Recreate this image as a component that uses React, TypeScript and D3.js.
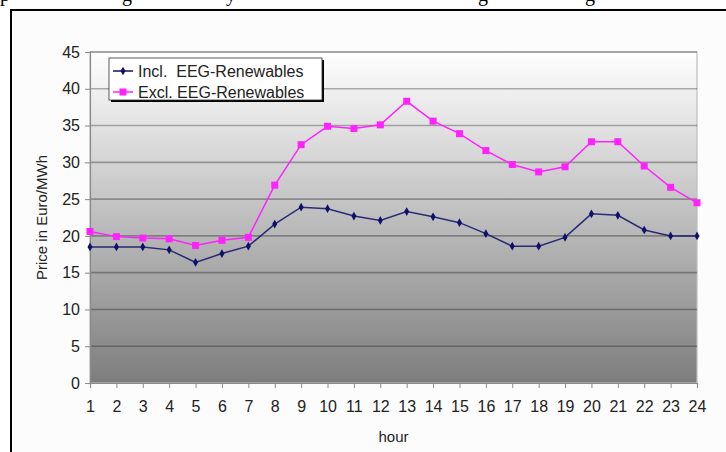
import { useEffect, useRef } from "react";
import * as d3 from "d3";

const hours = d3.range(1, 25);
const inclValues = [
  18.5, 18.5, 18.5, 18.1, 16.4, 17.6, 18.6, 21.6, 23.9, 23.7, 22.7, 22.1,
  23.3, 22.6, 21.8, 20.3, 18.6, 18.6, 19.8, 23.0, 22.8, 20.8, 20.0, 20.0,
];
const exclValues = [
  20.6, 19.9, 19.7, 19.6, 18.7, 19.4, 19.8, 26.9, 32.4, 34.9, 34.6, 35.1,
  38.3, 35.6, 33.9, 31.6, 29.7, 28.7, 29.4, 32.8, 32.8, 29.5, 26.6, 24.5,
];
const yTicks = [0, 5, 10, 15, 20, 25, 30, 35, 40, 45];
const seriesNames = ["Incl.  EEG-Renewables", "Excl. EEG-Renewables"];
const headerGlyphs = [
  { x: 0, ch: "p" },
  { x: 122, ch: "g" },
  { x: 226, ch: "y" },
  { x: 478, ch: "g" },
  { x: 585, ch: "g" },
];

const W = 726;
const H = 452;
const PLOT = { left: 90, right: 697, top: 52, bottom: 383 };
const FONT = "Arial, 'Liberation Sans', sans-serif";
const NAVY = "#10106a";
const PINK = "#ff22ff";

export default function App() {
  const svgRef = useRef<SVGSVGElement>(null);

  useEffect(() => {
    const svg = d3.select(svgRef.current);
    svg.selectAll("*").remove();
    svg.attr("width", W).attr("height", H).attr("viewBox", `0 0 ${W} ${H}`);

    svg.append("rect").attr("width", W).attr("height", H).attr("fill", "#ffffff");

    // cut-off line of page text above the figure
    headerGlyphs.forEach((g) => {
      svg.append("text")
        .attr("x", g.x)
        .attr("y", 1)
        .attr("font-family", "'Liberation Serif', 'Times New Roman', serif")
        .attr("font-size", "20px")
        .attr("fill", "#000")
        .text(g.ch);
    });

    // chart area + frame
    svg.append("rect")
      .attr("x", 11).attr("y", 10)
      .attr("width", W).attr("height", H)
      .attr("fill", "#fcfcfc")
      .attr("stroke", "#000")
      .attr("stroke-width", 2);

    const defs = svg.append("defs");
    const grad = defs.append("linearGradient")
      .attr("id", "plotBg")
      .attr("x1", 0).attr("y1", 0).attr("x2", 0).attr("y2", 1);
    grad.append("stop").attr("offset", "0%").attr("stop-color", "#ffffff");
    grad.append("stop").attr("offset", "100%").attr("stop-color", "#7d7d7d");

    const x = d3.scaleLinear().domain([1, 24]).range([PLOT.left, PLOT.right]);
    const y = d3.scaleLinear().domain([0, 45]).range([PLOT.bottom, PLOT.top]);

    svg.append("rect")
      .attr("x", PLOT.left).attr("y", PLOT.top)
      .attr("width", PLOT.right - PLOT.left)
      .attr("height", PLOT.bottom - PLOT.top)
      .attr("fill", "url(#plotBg)")
      .attr("stroke", "#bdbdbd")
      .attr("stroke-width", 1.2);

    // gridlines
    yTicks.filter((t) => t > 0).forEach((t) => {
      svg.append("line")
        .attr("x1", PLOT.left).attr("x2", PLOT.right)
        .attr("y1", y(t)).attr("y2", y(t))
        .attr("stroke", "#000")
        .attr("stroke-opacity", 0.3)
        .attr("stroke-width", 1.6);
    });

    // y axis
    const yAxis = svg.append("g")
      .attr("transform", `translate(${PLOT.left},0)`)
      .call(d3.axisLeft(y).tickValues(yTicks).tickSize(5).tickPadding(5));
    yAxis.select(".domain").attr("stroke", "#8a8a8a").attr("stroke-width", 1.2);
    yAxis.selectAll(".tick line").attr("stroke", "#8a8a8a");
    yAxis.selectAll("text")
      .attr("font-family", FONT)
      .attr("font-size", "16px")
      .attr("fill", "#222");

    // x axis
    const xAxis = svg.append("g")
      .attr("transform", `translate(0,${PLOT.bottom})`)
      .call(d3.axisBottom(x).tickValues(hours).tickFormat(d3.format("d")).tickSize(5).tickPadding(13));
    xAxis.select(".domain").attr("stroke", "#8a8a8a").attr("stroke-width", 1.2);
    xAxis.selectAll(".tick line").attr("stroke", "#8a8a8a");
    xAxis.selectAll("text")
      .attr("font-family", FONT)
      .attr("font-size", "16px")
      .attr("fill", "#222");

    // axis titles
    svg.append("text")
      .attr("x", (PLOT.left + PLOT.right) / 2)
      .attr("y", 442)
      .attr("text-anchor", "middle")
      .attr("font-family", FONT)
      .attr("font-size", "15px")
      .attr("fill", "#222")
      .text("hour");

    svg.append("text")
      .attr("transform", `translate(47,${(PLOT.top + PLOT.bottom) / 2}) rotate(-90)`)
      .attr("text-anchor", "middle")
      .attr("font-family", FONT)
      .attr("font-size", "15px")
      .attr("fill", "#222")
      .text("Price in Euro/MWh");

    // series
    const line = d3.line<number>()
      .x((_, i) => x(hours[i]))
      .y((d) => y(d));

    svg.append("path")
      .datum(exclValues)
      .attr("d", line)
      .attr("fill", "none")
      .attr("stroke", PINK)
      .attr("stroke-width", 1.5);
    exclValues.forEach((v, i) => {
      svg.append("rect")
        .attr("x", x(hours[i]) - 3.5).attr("y", y(v) - 3.5)
        .attr("width", 7).attr("height", 7)
        .attr("fill", PINK);
    });

    svg.append("path")
      .datum(inclValues)
      .attr("d", line)
      .attr("fill", "none")
      .attr("stroke", NAVY)
      .attr("stroke-opacity", 0.85)
      .attr("stroke-width", 1.5);
    const diamond = d3.symbol().type(d3.symbolDiamond).size(22);
    inclValues.forEach((v, i) => {
      svg.append("path")
        .attr("d", diamond)
        .attr("transform", `translate(${x(hours[i])},${y(v)})`)
        .attr("fill", NAVY);
    });

    // legend
    const lg = svg.append("g").attr("transform", "translate(109,58)");
    lg.append("rect")
      .attr("x", 2).attr("y", 2).attr("width", 213).attr("height", 42)
      .attr("fill", "#000");
    lg.append("rect")
      .attr("width", 213).attr("height", 42)
      .attr("fill", "#fff")
      .attr("stroke", "#333")
      .attr("stroke-width", 0.8);
    seriesNames.forEach((name, i) => {
      const cy = 13 + i * 21;
      const color = i === 0 ? NAVY : PINK;
      lg.append("line")
        .attr("x1", 4).attr("x2", 24)
        .attr("y1", cy).attr("y2", cy)
        .attr("stroke", color)
        .attr("stroke-width", 1.5);
      if (i === 0) {
        lg.append("path")
          .attr("d", diamond)
          .attr("transform", `translate(14,${cy})`)
          .attr("fill", NAVY);
      } else {
        lg.append("rect")
          .attr("x", 10.5).attr("y", cy - 3.5)
          .attr("width", 7).attr("height", 7)
          .attr("fill", PINK);
      }
      lg.append("text")
        .attr("x", 29)
        .attr("y", cy)
        .attr("dominant-baseline", "central")
        .attr("font-family", FONT)
        .attr("font-size", "16px")
        .attr("fill", "#222")
        .style("white-space", "pre")
        .text(name);
    });
  }, []);

  return <svg ref={svgRef} style={{ position: "absolute", left: 0, top: 0 }} />;
}
